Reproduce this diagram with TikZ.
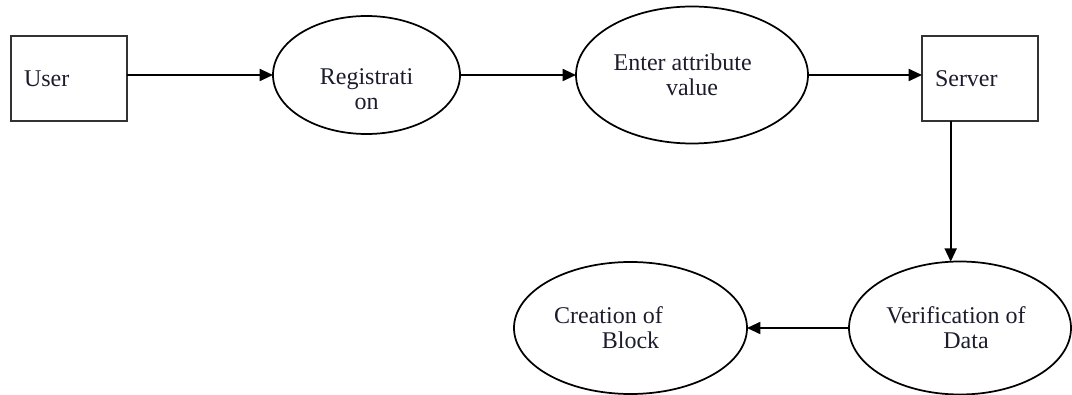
\documentclass[tikz,border=0pt]{standalone}
\usepackage{fontspec}
\setmainfont{Liberation Serif}
\usetikzlibrary{shapes.geometric,arrows.meta}
\definecolor{txt}{RGB}{28,28,45}
\definecolor{boxline}{RGB}{50,50,50}
\begin{document}
\begin{tikzpicture}[x=0.75pt,y=-0.75pt,
  every node/.style={font=\fontsize{18pt}{18.5pt}\selectfont, text=txt},
  boxnode/.style={draw=boxline, line width=1.8pt, rectangle, inner xsep=9.75pt, inner ysep=0pt,
    outer sep=0pt, text width=67.5pt, align=left, minimum height=63.75pt},
  ell/.style={draw=black, line width=1.3pt, ellipse, inner sep=0pt, outer sep=0pt, align=center},
  lbl/.style={inner sep=0pt, align=center},
  arr/.style={draw=black, line width=1.4pt, -{Triangle[length=10pt,width=9pt]}}
]
\useasboundingbox (0,0) rectangle (1072,395);

\node[boxnode] (user) at (69,78.5) {User};
\node[ell, minimum width=140.25pt, minimum height=88.5pt] (reg) at (366.5,75) {};
\node[lbl] (regtext) at (366.5,89) {Registrati\\on};
\node[ell, minimum width=174pt, minimum height=102.75pt] (enter) at (692,75)
  {Enter attribute\hspace*{14pt}\\value};
\node[boxnode] (server) at (980,78.5) {Server};
\node[ell, minimum width=166.5pt, minimum height=99.75pt] (ver) at (960,328)
  {Verification of\hspace*{6pt}\\\hspace*{9pt}Data};
\node[ell, minimum width=174.75pt, minimum height=99pt] (cre) at (630.5,328)
  {Creation of\hspace*{33pt}\\Block};

\draw[arr] (reg.west -| user.east) -- (reg.west);
\draw[arr] (reg.east) -- (enter.west);
\draw[arr] (enter.east) -- (enter.east -| server.west);
\draw[arr] (server.south -| ver.98) -- (ver.98);
\draw[arr] (ver.west) -- (cre.east);
\end{tikzpicture}
\end{document}
